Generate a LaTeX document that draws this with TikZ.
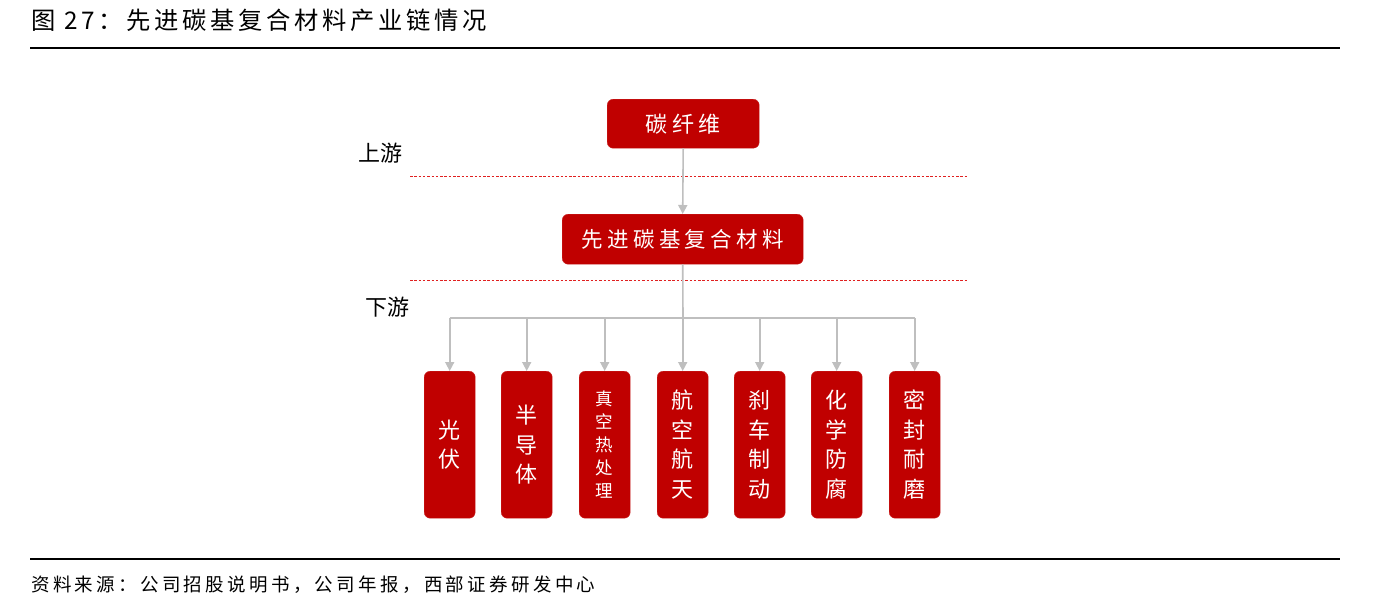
\documentclass[tikz,border=0pt]{standalone}
\usepackage{fontspec}
\newfontfamily\cjk{Noto Sans CJK SC}
\newfontfamily\cjkwide[LetterSpace=15]{Noto Sans CJK SC}
\newfontfamily\cjksrc[LetterSpace=18]{Noto Sans CJK SC}
\newfontfamily\cjkbox[LetterSpace=20]{Noto Sans CJK SC}
\usetikzlibrary{arrows.meta}
\definecolor{boxred}{HTML}{C00000}
\definecolor{linegray}{HTML}{BFBFBF}
\definecolor{dashred}{HTML}{E02020}
\tikzset{
  redbox/.style={draw=boxred!85, fill=boxred, rounded corners=6pt, text=white, inner sep=0pt, anchor=north west},
  vbox/.style={redbox, minimum width=51pt, minimum height=147pt, align=center, font=\cjk\fontsize{22}{29.5}\selectfont},
  conn/.style={draw=linegray, line width=1.6pt},
  arr/.style={conn, -{Triangle[length=9pt,width=9pt]}},
  sep/.style={draw=dashred, line width=0.9pt, dash pattern=on 2.5pt off 1.8pt},
  lbl/.style={font=\cjk\fontsize{22}{24}\selectfont, text=black, inner sep=0pt}
}
\begin{document}
\begin{tikzpicture}[x=1pt,y=-1pt]
\useasboundingbox (0,0) rectangle (1373,611);
\fill[white] (0,0) rectangle (1373,611);
% title
\node[anchor=west, inner sep=0pt, font=\cjkwide\fontsize{24.3}{26}\selectfont] (title) at (31,20) {图 27：先进碳基复合材料产业链情况};
\draw[line width=2pt] (30,48) -- (1340,48);
\draw[line width=2pt] (30,559) -- (1340,559);
\node[anchor=west, inner sep=0pt, font=\cjksrc\fontsize{18.5}{20}\selectfont] (src) at (31,585) {资料来源：公司招股说明书，公司年报，西部证券研发中心};
% separators
\draw[sep] (410,176) -- (968,176);
\draw[sep] (410,280) -- (968,280);
\node[lbl, anchor=west] (up) at (358,153) {上游};
\node[lbl, anchor=west] (down) at (365,307) {下游};
% top boxes
\node[redbox, minimum width=152pt, minimum height=49pt, font=\cjkbox\fontsize{22}{24}\selectfont] (cf) at (607,99) {碳纤维};
\node[redbox, minimum width=241pt, minimum height=50pt, font=\cjkbox\fontsize{21.5}{24}\selectfont] (ac) at (562,214) {先进碳基复合材料};
\draw[arr] (cf.south) -- (ac.north);
% bottom boxes
\node[vbox] (b1) at (424,371) {光\\伏};
\node[vbox] (b2) at (501,371) {半\\导\\体};
\node[vbox, font=\cjk\fontsize{17.5}{23}\selectfont] (b3) at (579,371) {真\\空\\热\\处\\理};
\node[vbox] (b4) at (657,371) {航\\空\\航\\天};
\node[vbox] (b5) at (734,371) {刹\\车\\制\\动};
\node[vbox] (b6) at (811,371) {化\\学\\防\\腐};
\node[vbox] (b7) at (889,371) {密\\封\\耐\\磨};
\coordinate (hub) at (683,318);
\draw[conn] (ac.south) -- (hub);
\draw[conn] (b1.north |- hub) -- (b7.north |- hub);
\foreach \b in {b1,b2,b3,b4,b5,b6,b7}{
  \draw[arr] (\b.north |- hub) -- (\b.north);
}
\end{tikzpicture}
\end{document}
